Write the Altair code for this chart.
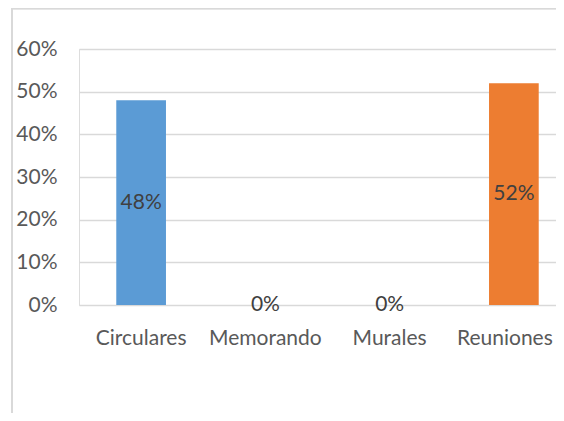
import altair as alt
import pandas as pd

categories = ["Circulares", "Memorando", "Murales", "Reuniones"]
values = [0.48, 0.0, 0.0, 0.52]
bar_colors = ["#5B9BD5", "#A5A5A5", "#FFC000", "#ED7D31"]
y_ticks = [0, 0.1, 0.2, 0.3, 0.4, 0.5, 0.6]

df = pd.DataFrame({"cat": categories, "val": values})
df["half"] = df["val"] / 2

W = 477
BAND_RANGE = 497
H = 256
FONT = "Lato"
FS = 21

x_enc = alt.X("cat:N", sort=categories,
              scale=alt.Scale(paddingInner=0.6, paddingOuter=0.3, range=[0, BAND_RANGE]),
              axis=alt.Axis(title=None, labelAngle=0, domain=False, ticks=False,
                            labelPadding=22, labelFontSize=FS, labelFont=FONT,
                            labelColor="#595959", grid=False,
                            labelOffset={"condition": {"test": "datum.value == 'Reuniones'",
                                                       "value": -9},
                                         "value": 0}))

bars = alt.Chart(df).mark_bar().encode(
    x=x_enc,
    y=alt.Y("val:Q", scale=alt.Scale(domain=[0, 0.6], nice=False),
            axis=alt.Axis(title=None, values=y_ticks, format=".0%", domain=False,
                          ticks=False, labelPadding=22, labelFontSize=FS,
                          labelFont=FONT, labelColor="#595959",
                          gridColor="#d9d9d9", gridWidth=1.3)),
    color=alt.Color("cat:N", scale=alt.Scale(domain=categories, range=bar_colors),
                    legend=None),
)

labels = alt.Chart(df).mark_text(fontSize=FS, font=FONT, color="#404040",
                                 baseline="middle", align="center").encode(
    x=alt.X("cat:N", sort=categories),
    y=alt.Y("half:Q"),
    text=alt.Text("val:Q", format=".0%"),
)

frame_left = alt.Chart(df).mark_rule(color="#d9d9d9", strokeWidth=1.3).encode(
    x=alt.value(-67), y=alt.value(-41), y2=alt.value(H + 120))
frame_top = alt.Chart(df).mark_rule(color="#d9d9d9", strokeWidth=1.3).encode(
    x=alt.value(-67), x2=alt.value(W), y=alt.value(-40.5))

chart = alt.layer(frame_left, frame_top, bars, labels).properties(
    width=W, height=H,
    autosize=alt.AutoSizeParams(type="none"),
    padding={"left": 71, "top": 41, "right": 0, "bottom": 108},
).configure_view(stroke=None).configure(background="white")

chart.save("out.html", embed_options={"renderer": "svg", "actions": False})
